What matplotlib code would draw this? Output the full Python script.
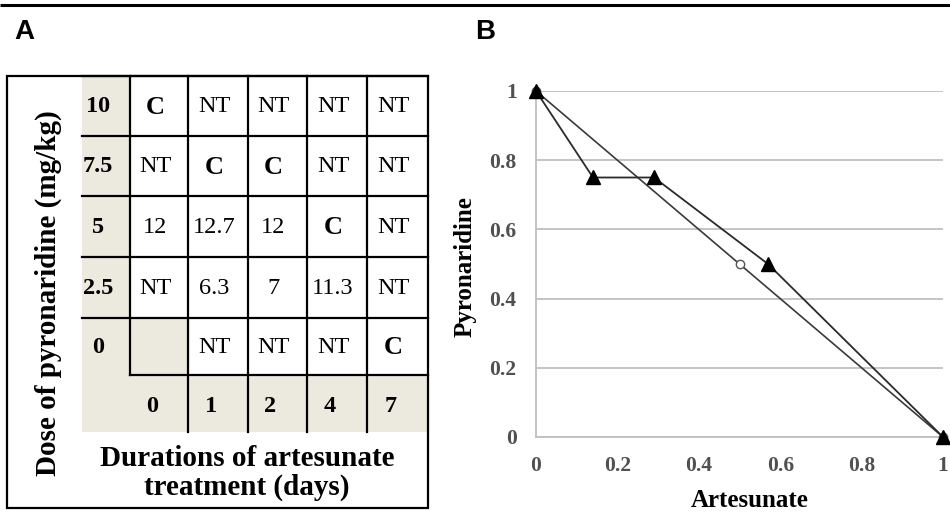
import matplotlib
matplotlib.use('Agg')
import matplotlib.pyplot as plt
from matplotlib.patches import Rectangle

# ---------------- Panel A data ----------------
row_labels = ['10', '7.5', '5', '2.5', '0']          # dose of pyronaridine (mg/kg)
col_labels = ['0', '1', '2', '4', '7']               # durations of artesunate (days)
cell_values = [
    ['C',  'NT',   'NT', 'NT',   'NT'],
    ['NT', 'C',    'C',  'NT',   'NT'],
    ['12', '12.7', '12', 'C',    'NT'],
    ['NT', '6.3',  '7',  '11.3', 'NT'],
    ['',   'NT',   'NT', 'NT',   'C'],
]

# ---------------- Panel B data ----------------
fic_artesunate = [0, 0.14, 0.29, 0.57, 1]
fic_pyronaridine = [1, 0.75, 0.75, 0.5, 0]
additive_artesunate = [0, 0.5, 1]
additive_pyronaridine = [1, 0.5, 0]
x_ticks = [0, 0.2, 0.4, 0.6, 0.8, 1]
x_tick_labels = ['0', '0.2', '0.4', '0.6', '0.8', '1']
y_ticks = [0, 0.2, 0.4, 0.6, 0.8, 1]
y_tick_labels = ['0', '0.2', '0.4', '0.6', '0.8', '1']

W, H = 950, 514
fig = plt.figure(figsize=(W / 100, H / 100), dpi=100)
fig.patch.set_facecolor('white')

SERIF = ['Liberation Serif', 'DejaVu Serif']
SANS = ['Liberation Sans', 'DejaVu Sans']
BEIGE = '#ECE9DF'

# overlay axes in pixel coordinates for panel A and decorations
ov = fig.add_axes([0, 0, 1, 1])
ov.set_xlim(0, W)
ov.set_ylim(H, 0)
ov.axis('off')
ov.patch.set_alpha(0)

# top rule
ov.plot([0, W], [5, 5], color='black', lw=2.2, solid_capstyle='butt')

# panel letters
ov.text(14, 39, 'A', fontsize=20, fontweight='bold', family=SANS, ha='left', va='baseline')
ov.text(475, 39, 'B', fontsize=20, fontweight='bold', family=SANS, ha='left', va='baseline')

# table layout (pixel edges)
hdr_x0 = 82
col_edges = [130, 188, 248, 307, 367, 428]
row_edges = [76, 136, 196, 257, 318, 375]
bottom_row_y1 = 432
LW = 1.6

# beige background
ov.add_patch(Rectangle((hdr_x0, row_edges[0]), col_edges[-1] - hdr_x0,
                       bottom_row_y1 - row_edges[0], facecolor=BEIGE, edgecolor='none', zorder=1))
# white data cells
for i, row in enumerate(cell_values):
    for j, val in enumerate(row):
        if val != '':
            ov.add_patch(Rectangle((col_edges[j], row_edges[i]), col_edges[j + 1] - col_edges[j],
                                   row_edges[i + 1] - row_edges[i], facecolor='white',
                                   edgecolor='none', zorder=1.5))

# grid lines
for y in row_edges[:-1]:
    ov.plot([hdr_x0, col_edges[-1]], [y, y], color='black', lw=LW, zorder=3)
ov.plot([col_edges[0], col_edges[-1]], [row_edges[-1], row_edges[-1]], color='black', lw=LW, zorder=3)
ov.plot([col_edges[0], col_edges[0]], [row_edges[0], row_edges[-1]], color='black', lw=LW, zorder=3)
for x in col_edges[1:-1]:
    ov.plot([x, x], [row_edges[0], bottom_row_y1], color='black', lw=LW, zorder=3)

# outer box
ov.add_patch(Rectangle((7, 75.5), col_edges[-1] - 7, 508 - 75.5, facecolor='none',
                       edgecolor='black', lw=LW, zorder=4))

# cell texts
for i, row in enumerate(cell_values):
    yc = (row_edges[i] + row_edges[i + 1]) / 2 + 1
    ov.text(98, yc, row_labels[i], fontsize=17.5, fontweight='bold', family=SERIF,
            ha='center', va='center', zorder=5)
    for j, val in enumerate(row):
        xc = (col_edges[j] + col_edges[j + 1]) / 2 - 4
        bold = (val == 'C')
        ov.text(xc, yc, val, fontsize=19 if bold else 17.5,
                fontweight='bold' if bold else 'normal', family=SERIF,
                ha='center', va='center', zorder=5)
ybot = (row_edges[-1] + bottom_row_y1) / 2 + 3
bottom_centers = [152] + [(col_edges[j] + col_edges[j + 1]) / 2 - 7 for j in range(1, 5)]
for xc, lab in zip(bottom_centers, col_labels):
    ov.text(xc, ybot, lab, fontsize=17.5, fontweight='bold', family=SERIF,
            ha='center', va='center', zorder=5)

# panel A axis titles
ov.text(48, 293, 'Dose of pyronaridine (mg/kg)', fontsize=21, fontweight='bold', family=SERIF,
        rotation=90, ha='center', va='center', zorder=5)
ov.text(247, 473, 'Durations of artesunate\ntreatment (days)', fontsize=21, fontweight='bold',
        family=SERIF, ha='center', va='center', linespacing=1.05, zorder=5)

# ---------------- Panel B ----------------
AX_L, AX_R, AX_T, AX_B = 536, 943, 91, 437
ax = fig.add_axes([AX_L / W, (H - AX_B) / H, (AX_R - AX_L) / W, (AX_B - AX_T) / H])
ax.set_xlim(0, 1)
ax.set_ylim(0, 1)
ax.set_xticks(x_ticks)
ax.set_xticklabels(x_tick_labels)
ax.set_yticks(y_ticks)
ax.set_yticklabels(y_tick_labels)
ax.yaxis.grid(True, color='#BFBFBF', lw=1.3)
ax.set_axisbelow(True)
for s in ['top', 'right']:
    ax.spines[s].set_visible(False)
for s in ['left', 'bottom']:
    ax.spines[s].set_color('#BFBFBF')
    ax.spines[s].set_linewidth(1.3)
ax.tick_params(length=0, pad=14, labelsize=15.5, labelcolor='#505050')
for lab in ax.get_xticklabels() + ax.get_yticklabels():
    lab.set_fontweight('bold')
    lab.set_family(SERIF)

ax.plot(additive_artesunate, additive_pyronaridine, color='#3a3a3a', lw=1.2, marker='o',
        mfc='white', mec='#555555', ms=6, mew=1.0, clip_on=False, zorder=3)
ax.plot(fic_artesunate, fic_pyronaridine, color='#2a2a2a', lw=1.3, marker='^',
        mfc='black', mec='black', ms=10, clip_on=False, zorder=4)

ax.set_xlabel('Artesunate', fontsize=18, fontweight='bold', family=SERIF)
ax.set_ylabel('Pyronaridine', fontsize=18, fontweight='bold', family=SERIF)
axw, axh = AX_R - AX_L, AX_B - AX_T
ax.xaxis.set_label_coords((750 - AX_L) / axw, (AX_B - 507) / axh)
ax.yaxis.set_label_coords((465 - AX_L) / axw, (AX_B - 267) / axh)
ax.xaxis.label.set_va('baseline')
ax.yaxis.label.set_va('center')

fig.savefig('out.png', dpi=100, facecolor='white')
